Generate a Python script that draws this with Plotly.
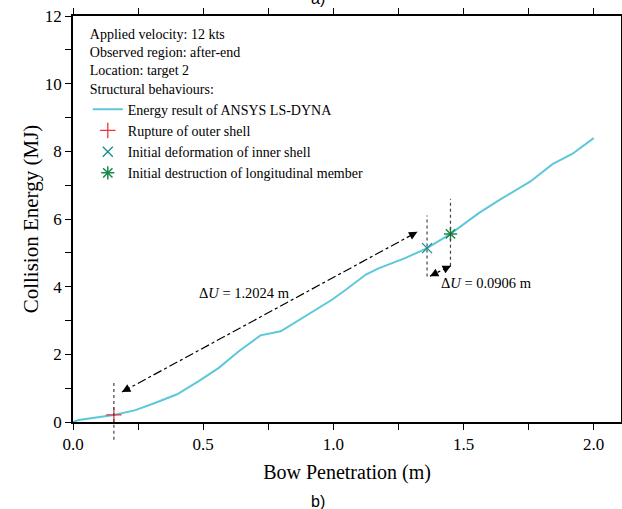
import plotly.graph_objects as go

# ---- data ----
PENETRATION = [0.0, 0.022, 0.157, 0.24, 0.317, 0.40, 0.483, 0.56, 0.637, 0.72, 0.798, 0.894,
               0.996, 1.048, 1.125, 1.176, 1.278, 1.36, 1.45, 1.56, 1.64, 1.757, 1.842, 1.919, 2.0]
ENERGY = [0.0, 0.06, 0.21, 0.35, 0.57, 0.82, 1.21, 1.60, 2.09, 2.56, 2.68, 3.13,
          3.62, 3.91, 4.36, 4.55, 4.85, 5.14, 5.56, 6.18, 6.57, 7.11, 7.62, 7.93, 8.39]

RUPTURE = (0.157, 0.21)
INNER = (1.36, 5.14)
LONGIT = (1.45, 5.56)

DU_LABELS = ["Δ<i>U</i> = 1.2024 m", "Δ<i>U</i> = 0.0906 m"]
DU_LABEL_POS = [(0.657, 3.80), (1.587, 4.12)]
# arrow end points (data coords)
ARROW1 = [(0.188, 0.885), (1.323, 5.62)]
ARROW2 = [(1.452, 4.62), (1.371, 4.31)]
# dotted guide lines: (x, y_top, y_bottom)
GUIDES = [(RUPTURE[0], 1.23, 0.0), (INNER[0], 6.1, 4.3), (LONGIT[0], 6.6, 4.62)]

X_TICKS = [0.0, 0.5, 1.0, 1.5, 2.0]
X_TICK_LABELS = ["0.0", "0.5", "1.0", "1.5", "2.0"]
Y_TICKS = [0, 2, 4, 6, 8, 10, 12]

INFO_LINES = ["Applied velocity: 12 kts", "Observed region: after-end",
              "Location: target 2", "Structural behaviours:"]

FONT = "Liberation Serif, Times New Roman, serif"
LINE_COLOR = "#5cc8d9"

fig = go.Figure()
fig.add_trace(go.Scatter(x=PENETRATION, y=ENERGY, mode="lines",
                         line=dict(color=LINE_COLOR, width=2),
                         name="Energy result of ANSYS LS-DYNA"))
fig.add_trace(go.Scatter(x=[RUPTURE[0]], y=[RUPTURE[1]], mode="markers",
                         marker=dict(symbol="cross-thin", size=11,
                                     line=dict(color="#e8363c", width=1.3)),
                         name="Rupture of outer shell"))
fig.add_trace(go.Scatter(x=[INNER[0]], y=[INNER[1]], mode="markers",
                         marker=dict(symbol="x-thin", size=10,
                                     line=dict(color="#1a8c8c", width=1.3)),
                         name="Initial deformation of inner shell"))
fig.add_trace(go.Scatter(x=[LONGIT[0]], y=[LONGIT[1]], mode="markers",
                         marker=dict(symbol="asterisk", size=11,
                                     line=dict(color="#1c8a4c", width=1.5)),
                         name="Initial destruction of longitudinal member"))

shapes = []
for gx, gt, gb in GUIDES:
    shapes.append(dict(type="line", xref="x", yref="y", x0=gx, x1=gx, y0=gb, y1=gt,
                       line=dict(color="#444444", width=1.2, dash="dot")))
# extension of rupture guide below the axis
shapes.append(dict(type="line", xref="x", yref="y domain", x0=GUIDES[0][0], x1=GUIDES[0][0],
                   y0=-0.044, y1=0, line=dict(color="#444444", width=1.2, dash="dot")))
for (a, b) in (ARROW1, ARROW2):
    shapes.append(dict(type="line", xref="x", yref="y", x0=a[0], y0=a[1], x1=b[0], y1=b[1],
                       line=dict(color="black", width=1.2, dash="dashdot")))

annotations = []
for (a, b), frac in ((ARROW1, 0.025), (ARROW2, 0.35)):
    for head, other in ((a, b), (b, a)):
        tx = head[0] + frac * (other[0] - head[0])
        ty = head[1] + frac * (other[1] - head[1])
        annotations.append(dict(x=head[0], y=head[1], ax=tx, ay=ty, xref="x", yref="y",
                                axref="x", ayref="y", showarrow=True, arrowhead=2,
                                arrowsize=1.4, arrowwidth=1.2, arrowcolor="black", text=""))
for txt, (lx, ly) in zip(DU_LABELS, DU_LABEL_POS):
    annotations.append(dict(x=lx, y=ly, xref="x", yref="y", text=txt, showarrow=False,
                            font=dict(family=FONT, size=14.5, color="black")))
annotations.append(dict(x=0.447, y=-0.196, xref="paper", yref="paper", text="b)",
                        yanchor="middle", showarrow=False,
                        font=dict(family="Liberation Sans, Arial", size=16, color="black")))
annotations.append(dict(x=0.447, y=1.017, xref="paper", yref="paper", text="a)", yanchor="bottom",
                        showarrow=False, font=dict(family="Liberation Sans, Arial", size=16, color="black")))

axis_common = dict(showline=True, linecolor="black", linewidth=1.6, mirror="ticks",
                   ticks="outside", ticklen=6, tickwidth=1.4, tickcolor="black",
                   showgrid=False, zeroline=False, automargin=False,
                   tickfont=dict(family=FONT, size=17, color="black"))

fig.update_layout(
    width=622, height=509,
    margin=dict(l=73, r=1, t=16, b=87),
    plot_bgcolor="white", paper_bgcolor="white",
    shapes=shapes, annotations=annotations,
    xaxis=dict(range=[0, 2.105], tickvals=X_TICKS, ticktext=X_TICK_LABELS,
               minor=dict(dtick=0.25, ticks="outside", ticklen=6, tickcolor="black", tickwidth=1.4),
               title=dict(text="Bow Penetration (m)", standoff=12,
                          font=dict(family=FONT, size=20, color="black")),
               **axis_common),
    yaxis=dict(range=[0, 12], tickvals=Y_TICKS,
               minor=dict(dtick=1, ticks="outside", ticklen=6, tickcolor="black", tickwidth=1.4),
               title=dict(text="Collision Energy (MJ)", standoff=0,
                          font=dict(family=FONT, size=21, color="black")),
               **axis_common),
    legend=dict(x=0.027, y=0.988, xanchor="left", yanchor="top",
                bgcolor="rgba(0,0,0,0)", tracegroupgap=0,
                font=dict(family=FONT, size=14, color="black"),
                title=dict(text="<br>".join(INFO_LINES),
                           font=dict(family=FONT, size=14, color="black"))),
    showlegend=True,
)

fig.write_html("out.html", config={"displayModeBar": False},
               post_script="document.body.style.margin='0';document.body.style.overflow='hidden';")
